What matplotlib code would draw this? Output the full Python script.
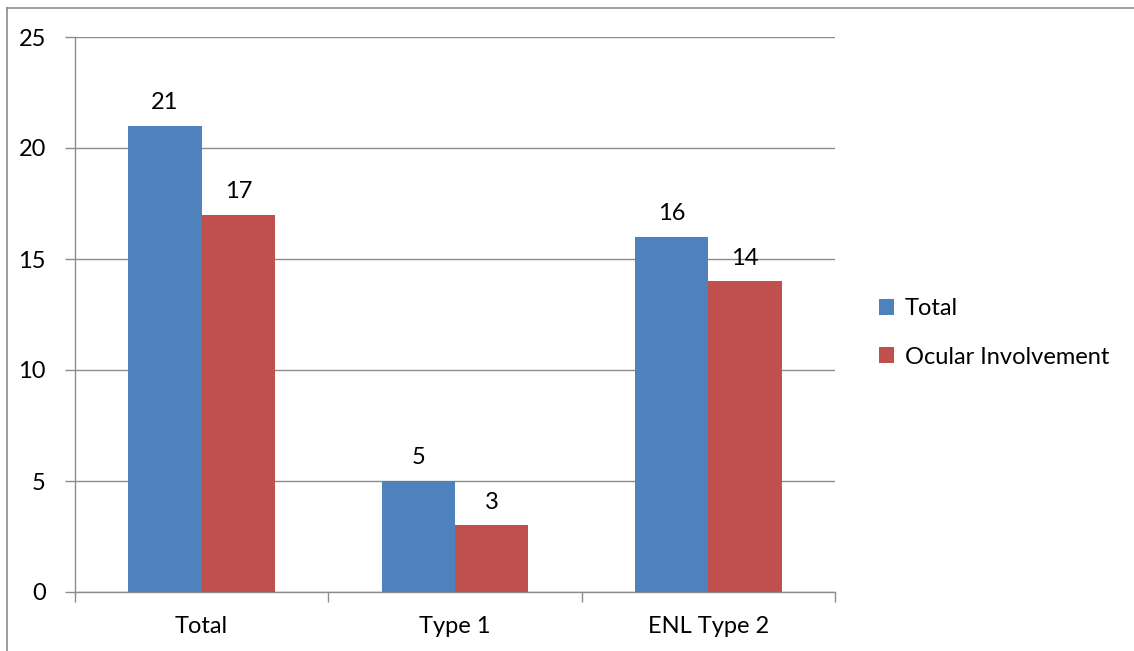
import matplotlib.pyplot as plt
import numpy as np
from matplotlib.lines import Line2D
from matplotlib.patches import Patch

categories = ["Total", "Type 1", "ENL Type 2"]
total_vals = [21, 5, 16]
ocular_vals = [17, 3, 14]
series_names = ["Total", "Ocular Involvement"]
yticks = [0, 5, 10, 15, 20, 25]

BLUE = "#4F81BD"
RED = "#C0504D"
GRID = "#8C8C8C"
FS = 17

plt.rcParams['font.family'] = ['Lato', 'DejaVu Sans']

fig = plt.figure(figsize=(11.34, 6.51), dpi=100)
ax = fig.add_axes([75 / 1134, 59 / 651, 760 / 1134, 555 / 651])

x = np.arange(len(categories))
w = 0.29
ax.bar(x - w / 2, total_vals, width=w, color=BLUE, zorder=3)
ax.bar(x + w / 2, ocular_vals, width=w, color=RED, zorder=3)

for xi, v in zip(x - w / 2, total_vals):
    ax.annotate(str(v), (xi, v), xytext=(0, 9), textcoords="offset points",
                ha="center", va="bottom", fontsize=FS)
for xi, v in zip(x + w / 2, ocular_vals):
    ax.annotate(str(v), (xi, v), xytext=(0, 9), textcoords="offset points",
                ha="center", va="bottom", fontsize=FS)

ax.set_xlim(-0.5, len(categories) - 0.5)
ax.set_ylim(0, 25)
ax.set_yticks(yticks)
ax.set_yticklabels([str(t) for t in yticks], fontsize=FS)
ax.yaxis.grid(True, color=GRID, linewidth=1.0, zorder=0)
ax.tick_params(axis="y", length=7, width=1, color=GRID, pad=14)

# category labels centred, tick marks on category boundaries
ax.set_xticks(x)
ax.set_xticklabels(categories, fontsize=FS)
ax.tick_params(axis="x", length=0, pad=17)
ax.set_xticks(np.arange(len(categories) + 1) - 0.5, minor=True)
ax.tick_params(axis="x", which="minor", length=7, width=1, color=GRID)

for s in ["top", "right"]:
    ax.spines[s].set_visible(False)
for s in ["left", "bottom"]:
    ax.spines[s].set_color(GRID)
    ax.spines[s].set_linewidth(1.0)

handles = [Patch(facecolor=BLUE, label=series_names[0]),
           Patch(facecolor=RED, label=series_names[1])]
fig.legend(handles=handles, loc="center left", bbox_to_anchor=(867 / 1134, 1 - 333 / 651),
           frameon=False, fontsize=FS, handlelength=0.65, handleheight=0.65,
           handletextpad=0.45, labelspacing=1.15, borderpad=0)

# outer frame (left and top edges)
fig.add_artist(Line2D([7 / 1134, 7 / 1134], [0, 1 - 8 / 651], transform=fig.transFigure,
                      color=GRID, linewidth=1.2))
fig.add_artist(Line2D([7 / 1134, 1], [1 - 8 / 651, 1 - 8 / 651], transform=fig.transFigure,
                      color=GRID, linewidth=1.2))

fig.savefig("out.png", dpi=100, facecolor="white")
